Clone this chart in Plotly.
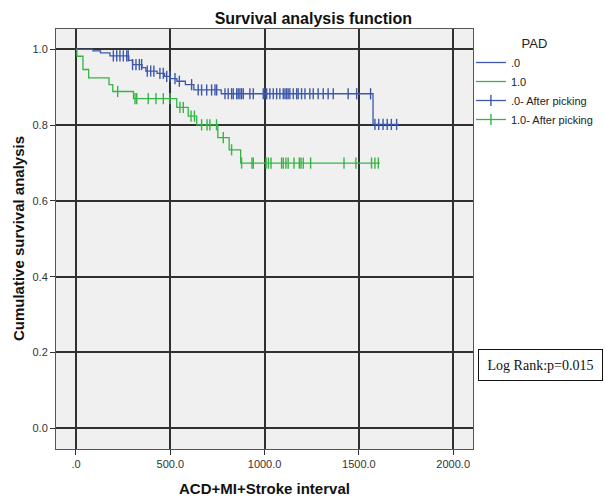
import numpy as np
import plotly.graph_objects as go

# ---- Data ----
group_labels = [".0", "1.0"]
censor_labels = [".0- After picking", "1.0- After picking"]

# PAD = .0 : event times and survival after each step
blue_times = [0, 90, 130, 180, 280, 300, 350, 370, 430, 470, 500, 535, 580, 625, 770, 1575]
blue_surv = [1.0, 0.996, 0.991, 0.983, 0.971, 0.960, 0.952, 0.943, 0.937, 0.929, 0.923,
             0.916, 0.907, 0.893, 0.883, 0.802]
blue_end = 1712
blue_censored = [198, 216, 233, 251, 269, 277, 300, 318, 336, 348, 378, 396, 413, 445, 463,
                 481, 498, 525, 548, 613, 648, 666, 693, 719, 737, 746,
                 790, 807, 825, 834, 852, 860, 869, 878, 887, 922, 940, 993, 1002, 1011,
                 1028, 1046, 1064, 1081, 1099, 1108, 1117, 1125, 1134, 1152, 1170, 1178,
                 1196, 1214, 1240, 1258, 1284, 1311, 1337, 1364, 1443, 1488, 1562,
                 1585, 1605, 1628, 1650, 1672, 1700]

# PAD = 1.0
green_times = [0, 5, 37, 67, 175, 195, 305, 534, 595, 640, 752, 812, 873]
green_surv = [1.0, 0.982, 0.947, 0.925, 0.907, 0.889, 0.870, 0.847, 0.824, 0.801,
              0.767, 0.735, 0.700]
green_end = 1612
green_censored = [221, 313, 322, 383, 424, 463, 498, 551, 569, 610, 628, 666, 695, 710,
                  745, 781, 825, 878, 933, 940, 1008, 1020, 1034, 1090, 1099, 1113, 1125,
                  1156, 1184, 1193, 1205, 1244, 1421, 1484, 1567, 1585, 1603]

x_ticks = [0, 500, 1000, 1500, 2000]
x_tick_labels = [".0", "500.0", "1000.0", "1500.0", "2000.0"]
y_ticks = [0.0, 0.2, 0.4, 0.6, 0.8, 1.0]
y_tick_labels = ["0.0", "0.2", "0.4", "0.6", "0.8", "1.0"]

BLUE = "#3E58AC"
GREEN = "#35B545"


def step_xy(times, surv, end):
    x = list(times) + [end]
    y = list(surv) + [surv[-1]]
    return x, y


def censor_xy(times, surv, cens):
    t = np.asarray(times)
    s = np.asarray(surv)
    xs, ys = [], []
    for c in cens:
        idx = np.searchsorted(t, c, side="right") - 1
        xs += [c, None]
        ys += [float(s[idx]), None]
    return xs, ys


fig = go.Figure()

for times, surv, end, color, name in [
    (blue_times, blue_surv, blue_end, BLUE, group_labels[0]),
    (green_times, green_surv, green_end, GREEN, group_labels[1]),
]:
    x, y = step_xy(times, surv, end)
    fig.add_trace(go.Scatter(x=x, y=y, mode="lines", line=dict(shape="hv", color=color, width=1.3),
                             name=name))

for times, surv, cens, color, name in [
    (blue_times, blue_surv, blue_censored, BLUE, censor_labels[0]),
    (green_times, green_surv, green_censored, GREEN, censor_labels[1]),
]:
    x, y = censor_xy(times, surv, cens)
    fig.add_trace(go.Scatter(x=x, y=y, mode="lines+markers", connectgaps=False,
                             line=dict(color=color, width=1.3),
                             marker=dict(symbol="line-ns-open", size=8,
                                         line=dict(color=color, width=1.4)),
                             name=name))

axis_common = dict(
    showgrid=True, gridcolor="#303030", gridwidth=1.5,
    zeroline=False, showline=True, linecolor="#555555", linewidth=1, mirror=True,
    ticks="outside", ticklen=5, tickcolor="#303030",
    tickfont=dict(family="Liberation Sans, Arial", size=11, color="#333333"),
)

fig.update_xaxes(range=[-106, 2105], tickvals=x_ticks, ticktext=x_tick_labels, **axis_common)
fig.update_yaxes(range=[-0.055, 1.054], tickvals=y_ticks, ticktext=y_tick_labels, **axis_common)

fig.update_layout(
    width=605, height=497,
    margin=dict(l=56, r=132, t=29, b=48, autoexpand=False),
    paper_bgcolor="white", plot_bgcolor="#f0f0f0",
    font=dict(family="Liberation Sans, Arial", color="#111111"),
    title=dict(text="<b>Survival analysis function</b>", xref="container", x=0.518,
               xanchor="center", yref="container", y=1 - 18 / 497, yanchor="middle",
               font=dict(size=16, color="#111111")),
    showlegend=True,
    legend=dict(x=0.995, xanchor="left", y=0.995, yanchor="top",
                bgcolor="rgba(0,0,0,0)", borderwidth=0, itemwidth=30,
                font=dict(size=11, color="#222222"),
                title=dict(text="PAD", side="top center", font=dict(size=13, color="#222222"))),
    annotations=[
        dict(text="<b>Cumulative survival analysis</b>", xref="paper", yref="paper",
             x=-0.091, y=0.5, xanchor="center", yanchor="middle", textangle=-90,
             showarrow=False, font=dict(size=15, color="#111111")),
        dict(text="<b>ACD+MI+Stroke interval</b>", xref="paper", yref="paper",
             x=0.5, y=-0.093, xanchor="center", yanchor="middle",
             showarrow=False, font=dict(size=15, color="#111111")),
        dict(text="Log Rank:p=0.015", xref="paper", yref="paper",
             x=1.163, y=0.199, xanchor="center", yanchor="middle", showarrow=False,
             width=119, height=26, borderpad=2, borderwidth=1, bordercolor="#111111",
             bgcolor="white", align="center",
             font=dict(family="Liberation Serif, Times New Roman", size=14, color="#111111")),
    ],
)

fig.write_html("out.html", config={"displayModeBar": False},
               post_script="document.body.style.margin='0px';document.body.style.overflow='hidden';")
